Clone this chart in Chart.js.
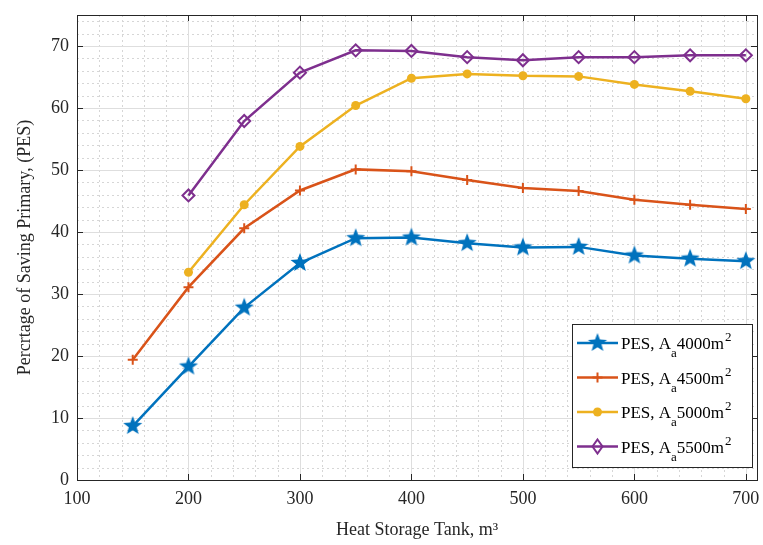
<!DOCTYPE html>
<html lang="en">
<head>
  <meta charset="UTF-8">
  <title>PES vs Heat Storage Tank</title>
  <script src="https://cdn.jsdelivr.net/npm/chart.js"></script>
  <style>
    html, body { margin: 0; padding: 0; background: #fff; }
    #wrap { width: 763px; height: 545px; }
  </style>
</head>
<body>
  <div id="wrap"><canvas id="grafico"></canvas></div>
  <script>
    // tank volumes (m3)
    const tankSizes = [150, 200, 250, 300, 350, 400, 450, 500, 550, 600, 650, 700];
    const tankSizes2 = [200, 250, 300, 350, 400, 450, 500, 550, 600, 650, 700];

    const pes4000 = [8.7, 18.3, 27.8, 35.0, 39.0, 39.1, 38.2, 37.5, 37.6, 36.2, 35.7, 35.3];
    const pes4500 = [19.4, 31.1, 40.6, 46.7, 50.1, 49.8, 48.4, 47.1, 46.6, 45.2, 44.4, 43.7];
    const pes5000 = [33.5, 44.4, 53.8, 60.4, 64.8, 65.5, 65.2, 65.1, 63.8, 62.7, 61.5];
    const pes5500 = [45.9, 57.9, 65.7, 69.3, 69.2, 68.2, 67.7, 68.2, 68.2, 68.5, 68.5];

    const xTicks = [100, 200, 300, 400, 500, 600, 700];
    const yTicks = [0, 10, 20, 30, 40, 50, 60, 70];
    const areas = ['4000', '4500', '5000', '5500'];

    const serif = '"Liberation Serif", "DejaVu Serif", serif';

    function pares(xs, ys) {
      return xs.map((x, i) => ({ x: x, y: ys[i] }));
    }

    // filled five point star used as marker
    function estrela(r, cor) {
      const c = document.createElement('canvas');
      const s = Math.ceil(r * 2 + 2);
      c.width = s; c.height = s;
      const g = c.getContext('2d');
      g.fillStyle = cor;
      g.beginPath();
      for (let i = 0; i < 10; i++) {
        const rr = i % 2 === 0 ? r : r * 0.42;
        const a = -Math.PI / 2 + i * Math.PI / 5;
        const px = s / 2 + rr * Math.cos(a), py = s / 2 + rr * Math.sin(a);
        if (i === 0) g.moveTo(px, py); else g.lineTo(px, py);
      }
      g.closePath();
      g.fill();
      return c;
    }

    const cores = ['#0072BD', '#D95319', '#EDB120', '#7E2F8E'];
    const marcaEstrela = estrela(10, cores[0]);

    // grid: dotted minor lines plus solid major lines, drawn under the data
    const grade = {
      id: 'grade',
      beforeDatasetsDraw(chart) {
        const { ctx, chartArea: a, scales: { x, y } } = chart;
        ctx.save();
        ctx.lineWidth = 1;
        ctx.strokeStyle = '#d6d6d6';
        ctx.setLineDash([2, 3]);
        for (let v = 100; v <= 710; v += 20) {
          if (v % 100 === 0) continue;
          const px = Math.round(x.getPixelForValue(v)) + 0.5;
          ctx.beginPath(); ctx.moveTo(px, a.top); ctx.lineTo(px, a.bottom); ctx.stroke();
        }
        for (let v = 0; v <= 75; v += 2) {
          if (v % 10 === 0) continue;
          const py = Math.round(y.getPixelForValue(v)) + 0.5;
          ctx.beginPath(); ctx.moveTo(a.left, py); ctx.lineTo(a.right, py); ctx.stroke();
        }
        ctx.setLineDash([]);
        ctx.strokeStyle = '#dedede';
        xTicks.forEach(v => {
          const px = Math.round(x.getPixelForValue(v)) + 0.5;
          ctx.beginPath(); ctx.moveTo(px, a.top); ctx.lineTo(px, a.bottom); ctx.stroke();
        });
        yTicks.forEach(v => {
          const py = Math.round(y.getPixelForValue(v)) + 0.5;
          ctx.beginPath(); ctx.moveTo(a.left, py); ctx.lineTo(a.right, py); ctx.stroke();
        });
        ctx.restore();
      },
      afterDatasetsDraw(chart) {
        const { ctx, chartArea: a, scales: { x, y } } = chart;
        ctx.save();
        ctx.strokeStyle = '#262626';
        ctx.lineWidth = 1;
        ctx.strokeRect(Math.round(a.left) + 0.5, Math.round(a.top) + 0.5,
          Math.round(a.right - a.left), Math.round(a.bottom - a.top));
        // inward ticks on all four sides
        const t = 6;
        xTicks.forEach(v => {
          const px = Math.round(x.getPixelForValue(v)) + 0.5;
          ctx.beginPath();
          ctx.moveTo(px, a.bottom); ctx.lineTo(px, a.bottom - t);
          ctx.moveTo(px, a.top); ctx.lineTo(px, a.top + t);
          ctx.stroke();
        });
        yTicks.forEach(v => {
          const py = Math.round(y.getPixelForValue(v)) + 0.5;
          ctx.beginPath();
          ctx.moveTo(a.left, py); ctx.lineTo(a.left + t, py);
          ctx.moveTo(a.right, py); ctx.lineTo(a.right - t, py);
          ctx.stroke();
        });
        ctx.restore();
      }
    };

    // boxed legend in the lower right corner, with subscript and superscript
    const legenda = {
      id: 'legenda',
      afterDraw(chart) {
        const { ctx } = chart;
        const bx = 572.5, by = 324.5, bw = 180, bh = 143;
        ctx.save();
        ctx.fillStyle = '#fff';
        ctx.fillRect(bx, by, bw, bh);
        ctx.strokeStyle = '#262626';
        ctx.lineWidth = 1;
        ctx.strokeRect(bx, by, bw, bh);
        chart.data.datasets.forEach((ds, i) => {
          const cy = 343 + i * 34.5;
          ctx.strokeStyle = ds.borderColor;
          ctx.lineWidth = 2.5;
          ctx.beginPath(); ctx.moveTo(577, cy); ctx.lineTo(618, cy); ctx.stroke();
          const mx = 597.5;
          ctx.lineWidth = 2;
          if (i === 0) {
            ctx.drawImage(marcaEstrela, mx - marcaEstrela.width / 2, cy - marcaEstrela.height / 2);
          } else if (i === 1) {
            ctx.beginPath();
            ctx.moveTo(mx - 5, cy); ctx.lineTo(mx + 5, cy);
            ctx.moveTo(mx, cy - 5); ctx.lineTo(mx, cy + 5);
            ctx.stroke();
          } else if (i === 2) {
            ctx.fillStyle = ds.borderColor;
            ctx.beginPath(); ctx.arc(mx, cy, 4.5, 0, Math.PI * 2); ctx.fill();
          } else {
            ctx.beginPath();
            ctx.moveTo(mx, cy - 7); ctx.lineTo(mx + 5, cy);
            ctx.lineTo(mx, cy + 7); ctx.lineTo(mx - 5, cy); ctx.closePath();
            ctx.stroke();
          }
          ctx.fillStyle = '#000';
          ctx.textBaseline = 'alphabetic';
          ctx.font = '17px ' + serif;
          let tx = 621;
          const base = cy + 6;
          ctx.fillText('PES, A', tx, base);
          tx += ctx.measureText('PES, A').width;
          ctx.font = '13px ' + serif;
          ctx.fillText('a', tx, base + 8);
          tx += ctx.measureText('a').width;
          ctx.font = '17px ' + serif;
          ctx.fillText(areas[i] + 'm', tx, base);
          tx += ctx.measureText(areas[i] + 'm').width;
          ctx.font = '13px ' + serif;
          ctx.fillText('2', tx + 1, base - 8);
        });
        ctx.restore();
      }
    };

    const comum = { fill: false, tension: 0, borderWidth: 2.5 };

    new Chart(document.getElementById('grafico'), {
      type: 'line',
      data: {
        datasets: [
          Object.assign({}, comum, {
            label: 'PES, Aa 4000m2', data: pares(tankSizes, pes4000),
            borderColor: cores[0], backgroundColor: cores[0],
            pointStyle: marcaEstrela, pointRadius: 10
          }),
          Object.assign({}, comum, {
            label: 'PES, Aa 4500m2', data: pares(tankSizes, pes4500),
            borderColor: cores[1], backgroundColor: cores[1],
            pointStyle: 'cross', pointRadius: 5, pointBorderWidth: 2
          }),
          Object.assign({}, comum, {
            label: 'PES, Aa 5000m2', data: pares(tankSizes2, pes5000),
            borderColor: cores[2], backgroundColor: cores[2],
            pointStyle: 'circle', pointRadius: 4.5, pointBorderWidth: 0
          }),
          Object.assign({}, comum, {
            label: 'PES, Aa 5500m2', data: pares(tankSizes2, pes5500),
            borderColor: cores[3], backgroundColor: 'rgba(255,255,255,0)',
            pointStyle: 'rectRot', pointRadius: 6, pointBorderWidth: 2
          })
        ]
      },
      options: {
        responsive: true,
        maintainAspectRatio: false,
        animation: false,
        layout: { autoPadding: false, padding: { left: 10, right: 6, top: 15, bottom: 0 } },
        plugins: {
          legend: { display: false },
          tooltip: { enabled: false }
        },
        scales: {
          x: {
            type: 'linear', min: 100, max: 710,
            grid: { display: false, drawTicks: false },
            border: { display: false },
            afterBuildTicks: s => { s.ticks = xTicks.map(v => ({ value: v })); },
            afterFit: s => { s.height = 65; s.paddingLeft = 0; s.paddingRight = 0; },
            ticks: { color: '#262626', padding: 8, maxRotation: 0, font: { family: serif, size: 18 } },
            title: {
              display: true, text: 'Heat Storage Tank, m\u00b3', color: '#262626',
              font: { family: serif, size: 18 }, padding: { top: 4 }
            }
          },
          y: {
            min: 0, max: 75,
            grid: { display: false, drawTicks: false },
            border: { display: false },
            afterBuildTicks: s => { s.ticks = yTicks.map(v => ({ value: v })); },
            afterFit: s => { s.width = 67; s.paddingTop = 0; s.paddingBottom = 0; },
            ticks: { color: '#262626', padding: 8, font: { family: serif, size: 18 } },
            title: {
              display: true, text: 'Percrtage of Saving Primary, (PES)', color: '#262626',
              font: { family: serif, size: 18 }, padding: { bottom: 4 }
            }
          }
        }
      },
      plugins: [grade, legenda]
    });
  </script>
</body>
</html>
